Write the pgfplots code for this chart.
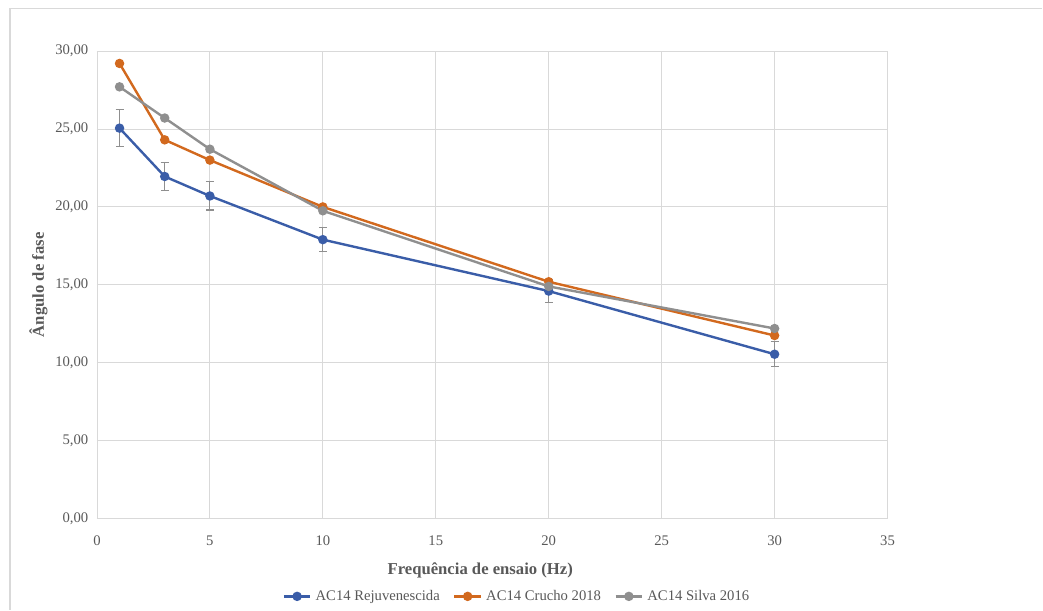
\documentclass[border=0pt]{standalone}
\usepackage{pgfplots}
\pgfplotsset{compat=1.18}
\usepackage{fontspec}
\setmainfont{Liberation Serif}
\definecolor{cblue}{HTML}{3A5DA8}
\definecolor{corange}{HTML}{D2691E}
\definecolor{cgray}{HTML}{8F8F8F}
\definecolor{tickgray}{HTML}{595959}
\definecolor{gridgray}{HTML}{D9D9D9}
\begin{document}
\begin{tikzpicture}
\path (0pt,0pt) rectangle (782.25pt,457.5pt);
\draw[gridgray,line width=0.8pt] (7.5pt,0pt) -- (7.5pt,451.1pt) -- (782.25pt,451.1pt);
\begin{axis}[
  at={(72.75pt,68.25pt)}, anchor=south west,
  scale only axis, width=593.25pt, height=351pt,
  xmin=0, xmax=35, ymin=0, ymax=30,
  xtick={0,5,...,35}, ytick={0,5,...,30},
  grid=major, major grid style={gridgray, line width=0.6pt},
  axis line style={gridgray, line width=0.6pt},
  axis x line*=bottom, axis y line*=left,
  y axis line style={draw=none},
  major tick length=0pt,
  tick label style={font=\fontsize{11}{13}\selectfont, text=tickgray},
  /pgf/number format/assume math mode=true,
  yticklabel style={xshift=-3pt, /pgf/number format/.cd, fixed, fixed zerofill, precision=2, use comma},
  xticklabel style={yshift=-9pt, /pgf/number format/.cd, fixed, precision=0},
  xlabel={\textbf{Frequência de ensaio (Hz)}},
  ylabel={\textbf{Ângulo de fase}},
  label style={font=\fontsize{12.5}{14}\selectfont, text=tickgray},
  xlabel style={yshift=-6pt, xshift=-9pt},
  ylabel style={yshift=-1pt},
  every axis plot/.append style={line width=1.8pt, mark=*, mark size=2.6pt},
  legend style={at={(0.5316,-0.141)}, anchor=north, draw=none, legend columns=3,
    font=\fontsize{11}{13}\selectfont, text=tickgray,
    /tikz/every odd column/.append style={column sep=1pt},
    /tikz/every even column/.append style={column sep=8pt}},
  legend image code/.code={
    \draw[#1, mark repeat=2, mark phase=2, line width=1.8pt] plot coordinates {(0pt,0pt) (10pt,0pt) (20pt,0pt)};
  },
]
\addplot[cblue, mark options={fill=cblue, draw=cblue},
  error bars/.cd, y dir=both, y explicit,
  error bar style={cgray, line width=0.8pt},
  error mark options={rotate=90, mark size=3pt, cgray, line width=0.8pt}]
  coordinates {
  (1,25.05) +- (0,1.2)
  (3,21.95) +- (0,0.9)
  (5,20.7) +- (0,0.9)
  (10,17.9) +- (0,0.75)
  (20,14.6) +- (0,0.75)
  (30,10.55) +- (0,0.8)
};
\addlegendentry{AC14 Rejuvenescida}
\addplot[corange, mark options={fill=corange, draw=corange}] coordinates {
  (1,29.2) (3,24.3) (5,23.0) (10,20.0) (20,15.2) (30,11.75)
};
\addlegendentry{AC14 Crucho 2018}
\addplot[cgray, mark options={fill=cgray, draw=cgray}] coordinates {
  (1,27.7) (3,25.7) (5,23.7) (10,19.75) (20,14.9) (30,12.2)
};
\addlegendentry{AC14 Silva 2016}
\end{axis}
\end{tikzpicture}
\end{document}
